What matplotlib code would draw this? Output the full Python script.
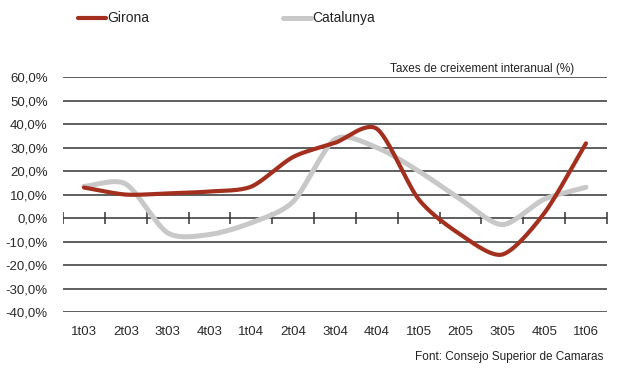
import numpy as np
import matplotlib
matplotlib.use('Agg')
import matplotlib.pyplot as plt

plt.rcParams['font.family'] = ['Liberation Sans Narrow', 'Liberation Sans', 'DejaVu Sans']

quarters = ['1t03', '2t03', '3t03', '4t03', '1t04', '2t04', '3t04',
            '4t04', '1t05', '2t05', '3t05', '4t05', '1t06']
girona = [13.0, 10.0, 10.5, 11.3, 13.4, 26.0, 32.0, 38.0, 8.0, -7.0, -15.5, 2.0, 31.8]
catalunya = [13.5, 14.5, -6.3, -7.0, -2.0, 7.0, 33.5, 30.0, 20.0, 8.0, -2.8, 8.0, 13.1]
yticks = [-40, -30, -20, -10, 0, 10, 20, 30, 40, 50, 60]


def smooth(x, y, n=30):
    # catmull-rom style curve through the points, like excel's smoothed line
    x = np.asarray(x, float); y = np.asarray(y, float)
    px = np.concatenate([[2*x[0]-x[1]], x, [2*x[-1]-x[-2]]])
    py = np.concatenate([[2*y[0]-y[1]], y, [2*y[-1]-y[-2]]])
    xs, ys = [], []
    t = np.linspace(0, 1, n)
    for i in range(1, len(px)-2):
        for p, out in ((px, xs), (py, ys)):
            p0, p1, p2, p3 = p[i-1], p[i], p[i+1], p[i+2]
            m1 = (p2 - p0) / 2 * 0.8
            m2 = (p3 - p1) / 2 * 0.8
            h00 = 2*t**3 - 3*t**2 + 1; h10 = t**3 - 2*t**2 + t
            h01 = -2*t**3 + 3*t**2; h11 = t**3 - t**2
            out.extend(h00*p1 + h10*m1 + h01*p2 + h11*m2)
    return np.array(xs), np.array(ys)


fig = plt.figure(figsize=(6.18, 3.76), dpi=100)
ax = fig.add_axes([0.102, 0.170, 0.880, 0.625])

for v in yticks:
    ax.axhline(v, color='#333333', lw=1.1, zorder=1)
pos = np.arange(len(quarters)) + 0.5
ax.plot(np.arange(len(quarters)+1), np.zeros(len(quarters)+1), '|', ms=9,
        mew=1.1, color='#333333', zorder=1)

cx, cy = smooth(pos, catalunya)
ax.plot(cx, cy, color='#c8c8c8', lw=3.6, solid_capstyle='round', zorder=2)
gx, gy = smooth(pos, girona)
ax.plot(gx, gy, color='#a3301f', lw=3.0, solid_capstyle='round', zorder=3)

ax.set_xlim(0, len(quarters))
ax.set_ylim(-40, 60)
ax.set_yticks(yticks)
ax.yaxis.set_major_formatter(matplotlib.ticker.FuncFormatter(
    lambda v, p: ('%.1f%%' % v).replace('.', ',')))
ax.set_xticks(pos)
ax.set_xticklabels(quarters)
ax.tick_params(length=0, pad=10, labelsize=9.5, labelcolor='#2a2a2a')
ax.tick_params(axis='y', pad=11)
for s in ax.spines.values():
    s.set_visible(False)

ax.text(0.94, 1.01, 'Taxes de creixement interanual (%)', transform=ax.transAxes,
        ha='right', va='bottom', fontsize=8.5, color='#222222')
fig.text(0.976, 0.05, 'Font: Consejo Superior de Camaras', ha='right', va='center',
         fontsize=8.5, color='#222222')

# legend at top
fig.add_artist(plt.Line2D([0.127, 0.171], [0.952, 0.952], color='#a3301f', lw=3.0,
                          solid_capstyle='round'))
fig.text(0.174, 0.952, 'Girona', va='center', fontsize=10, color='#222222')
fig.add_artist(plt.Line2D([0.458, 0.503], [0.952, 0.952], color='#c8c8c8', lw=3.6,
                          solid_capstyle='round'))
fig.text(0.506, 0.952, 'Catalunya', va='center', fontsize=10, color='#222222')

fig.savefig('out.png', dpi=100)
